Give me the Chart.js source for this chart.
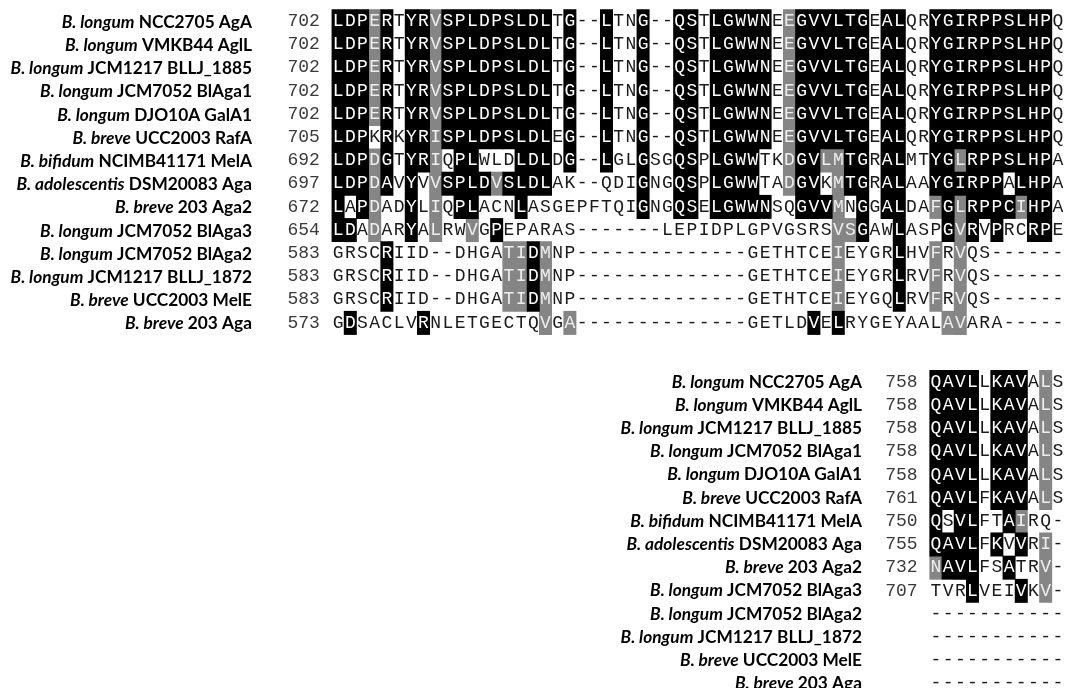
<!DOCTYPE html>
<html>
<head>
<meta charset="utf-8">
<script src="https://cdn.jsdelivr.net/npm/chart.js@4"></script>
<style>
html,body{margin:0;padding:0;background:#ffffff;}
#wrap{position:relative;width:1068px;height:688px;}
</style>
</head>
<body>
<div id="wrap"><canvas id="chart"></canvas></div>
<script>
// ---------- data ----------
const SPECIES = ["B. longum","B. longum","B. longum","B. longum","B. longum","B. breve","B. bifidum","B. adolescentis","B. breve","B. longum","B. longum","B. longum","B. breve","B. breve"];
const STRAINS = ["NCC2705 AgA","VMKB44 AglL","JCM1217 BLLJ_1885","JCM7052 BlAga1","DJO10A GalA1","UCC2003 RafA","NCIMB41171 MelA","DSM20083 Aga","203 Aga2","JCM7052 BlAga3","JCM7052 BlAga2","JCM1217 BLLJ_1872","UCC2003 MelE","203 Aga"];

const START1 = [702,702,702,702,702,705,692,697,672,654,583,583,583,573];
const SEQ1 = [
"LDPERTYRVSPLDPSLDLTG--LTNG--QSTLGWWNEEGVVLTGEALQRYGIRPPSLHPQ",
"LDPERTYRVSPLDPSLDLTG--LTNG--QSTLGWWNEEGVVLTGEALQRYGIRPPSLHPQ",
"LDPERTYRVSPLDPSLDLTG--LTNG--QSTLGWWNEEGVVLTGEALQRYGIRPPSLHPQ",
"LDPERTYRVSPLDPSLDLTG--LTNG--QSTLGWWNEEGVVLTGEALQRYGIRPPSLHPQ",
"LDPERTYRVSPLDPSLDLTG--LTNG--QSTLGWWNEEGVVLTGEALQRYGIRPPSLHPQ",
"LDPKRKYRISPLDPSLDLEG--LTNG--QSTLGWWNEEGVVLTGEALQRYGIRPPSLHPQ",
"LDPDGTYRIQPLWLDLDLDG--LGLGSGQSPLGWWTKDGVLMTGRALMTYGLRPPSLHPA",
"LDPDAVYVVSPLDVSLDLAK--QDIGNGQSPLGWWTADGVKMTGRALAAYGIRPPALHPA",
"LAPDADYLIQPLACNLASGEPFTQIGNGQSELGWWNSQGVVMNGGALDAFGLRPPCIHPA",
"LDADARYALRWVGPEPARAS-------LEPIDPLGPVGSRSVSGAWLASPGVRVPRCRPE",
"GRSCRIID--DHGATIDMNP--------------GETHTCEIEYGRLHVFRVQS------",
"GRSCRIID--DHGATIDMNP--------------GETHTCEIEYGRLRVFRVQS------",
"GRSCRIID--DHGATIDMNP--------------GETHTCEIEYGQLRVFRVQS------",
"GDSACLVRNLETGECTQVGA--------------GETLDVELRYGEYAALAVARA-----"
];
// b = identical (black), g = similar (grey), . = none
const SHADE1 = [
"bbbgb.bbgb"+"bbbbbbbb.b"+"..b..b..bb"+".bbbbb.gbb"+"bbbb.bb..b"+"bbbbbbbbb.",
"bbbgb.bbgb"+"bbbbbbbb.b"+"..b..b..bb"+".bbbbb.gbb"+"bbbb.bb..b"+"bbbbbbbbb.",
"bbbgb.bbgb"+"bbbbbbbb.b"+"..b..b..bb"+".bbbbb.gbb"+"bbbb.bb..b"+"bbbbbbbbb.",
"bbbgb.bbgb"+"bbbbbbbb.b"+"..b..b..bb"+".bbbbb.gbb"+"bbbb.bb..b"+"bbbbbbbbb.",
"bbbgb.bbgb"+"bbbbbbbb.b"+"..b..b..bb"+".bbbbb.gbb"+"bbbb.bb..b"+"bbbbbbbbb.",
"bbb.b.bbgb"+"bbbbbbbb.b"+"..b..b..bb"+".bbbbb.gbb"+"bbbb.bb..b"+"bbbbbbbbb.",
"bbbgb.bbg."+"bb...bbb.b"+"..b..b..bb"+".bbbb..gbb"+"ggbb.bb..b"+"bgbbbbbbb.",
"bbbgb.b.gb"+"bbbgbbbb.."+".....b..bb"+".bbbb..gbb"+".gbb.bb..b"+"bbbbb.bbb.",
"b.bg..b.g."+"bb...b...."+".....b..bb"+".bbbbb..bb"+"bg.b.bb..g"+"bgbbbbgbb.",
"bb.g..b.g."+".g.b......"+".........."+".........."+".ggb..b..."+"bgb.b..bb.",
"....b....."+"....ggbg.."+".........."+".........."+".g....b..g"+".g........",
"....b....."+"....ggbg.."+".........."+".........."+".g....b..g"+".g........",
"....b....."+"....ggbg.."+".........."+".........."+".g....b..g"+".g........",
".b.....b.."+".......g.g"+".........."+".........b"+".b........"+"gg........"
];

const START2 = [758,758,758,758,758,761,750,755,732,707,null,null,null,null];
const SEQ2 = [
"QAVLLKAVALS","QAVLLKAVALS","QAVLLKAVALS","QAVLLKAVALS","QAVLLKAVALS","QAVLFKAVALS",
"QSVLFTAIRQ-","QAVLFKVVRI-","NAVLFSATRV-","TVRLVEIVKV-",
"-----------","-----------","-----------","-----------"
];
const SHADE2 = [
"bbbb.bbb.g.","bbbb.bbb.g.","bbbb.bbb.g.","bbbb.bbb.g.","bbbb.bbb.g.","bbbb.bbb.g.",
"b.bb..bg...","bbbb.b.b.g.","gbbb..b..g.","...b...b.g.",
"...........","...........","...........","..........."
];

// ---------- layout (in alignment column / row units) ----------
const X_MIN = -26.713, X_MAX = 60.83;
const Y_MIN = -0.918, Y_MAX = 28.737;
const BLOCKS = [
  {seq: SEQ1, shade: SHADE1, start: START1, col0: 1,  row0: 0,     labelRight: -6.06, labelShift: 1},
  {seq: SEQ2, shade: SHADE2, start: START2, col0: 50, row0: 15.55, labelRight: 43.94, labelShift: 0}
];
const BLACK = "#000000", GREY = "#858585";
const SEQ_FONT = "18px 'Courier New', 'Liberation Mono', monospace";
const LABEL_FAMILY = "Lato, 'Open Sans', sans-serif";
const LABEL_SIZE = 17.3;

function shadeRuns(code) {
  const out = [];
  BLOCKS.forEach(b => {
    const nCols = b.shade[0].length;
    for (let j = 0; j < nCols; j++) {
      let r = 0;
      while (r < b.shade.length) {
        if (b.shade[r][j] === code) {
          let e = r;
          while (e + 1 < b.shade.length && b.shade[e + 1][j] === code) e++;
          out.push({x: b.col0 + j, y: [b.row0 + r - 0.5, b.row0 + e + 0.5]});
          r = e + 1;
        } else r++;
      }
    }
  });
  return out;
}

const textPlugin = {
  id: 'alignmentText',
  afterDatasetsDraw(chart) {
    const ctx = chart.ctx;
    const xs = chart.scales.x, ys = chart.scales.y;
    ctx.save();
    ctx.textBaseline = 'middle';
    BLOCKS.forEach(b => {
      for (let r = 0; r < b.seq.length; r++) {
        const yy = ys.getPixelForValue(b.row0 + r);
        // label: italic species + bold strain, right-aligned
        const right = xs.getPixelForValue(b.labelRight);
        const fIt = "italic bold " + LABEL_SIZE + "px " + LABEL_FAMILY;
        const fB = "bold " + LABEL_SIZE + "px " + LABEL_FAMILY;
        ctx.font = fB;
        const wStrain = ctx.measureText(STRAINS[r]).width;
        const wSpace = ctx.measureText(" ").width;
        ctx.font = fIt;
        const wSp = ctx.measureText(SPECIES[r]).width;
        let x0 = right - wStrain - wSpace - wSp;
        ctx.textAlign = 'left';
        ctx.fillStyle = '#000000';
        ctx.fillText(SPECIES[r], x0, yy + b.labelShift);
        ctx.font = fB;
        ctx.fillText(STRAINS[r], x0 + wSp + wSpace, yy + b.labelShift);
        // start number
        ctx.font = SEQ_FONT;
        if (b.start[r] !== null) {
          ctx.textAlign = 'right';
          ctx.fillStyle = '#3a3a3a';
          ctx.fillText(String(b.start[r]), xs.getPixelForValue(b.col0 - 1.5), yy);
        }
        // residues
        ctx.textAlign = 'center';
        for (let j = 0; j < b.seq[r].length; j++) {
          const s = b.shade[r][j];
          ctx.fillStyle = s === 'b' ? '#ffffff' : (s === 'g' ? '#eeeeee' : '#1a1a1a');
          ctx.fillText(b.seq[r][j], xs.getPixelForValue(b.col0 + j), yy);
        }
      }
    });
    ctx.restore();
  }
};

new Chart(document.getElementById('chart'), {
  type: 'bar',
  data: {
    datasets: [
      {label: 'identical', data: shadeRuns('b'), backgroundColor: BLACK},
      {label: 'similar', data: shadeRuns('g'), backgroundColor: GREY}
    ]
  },
  options: {
    responsive: true,
    maintainAspectRatio: false,
    animation: false,
    events: [],
    layout: {padding: 0},
    datasets: {bar: {grouped: false, barPercentage: 1, categoryPercentage: 1, borderWidth: 0, inflateAmount: 0.4}},
    plugins: {legend: {display: false}, tooltip: {enabled: false}},
    scales: {
      x: {type: 'linear', min: X_MIN, max: X_MAX, offset: false, display: false},
      y: {type: 'linear', min: Y_MIN, max: Y_MAX, reverse: true, display: false}
    }
  },
  plugins: [textPlugin]
});
</script>
</body>
</html>
